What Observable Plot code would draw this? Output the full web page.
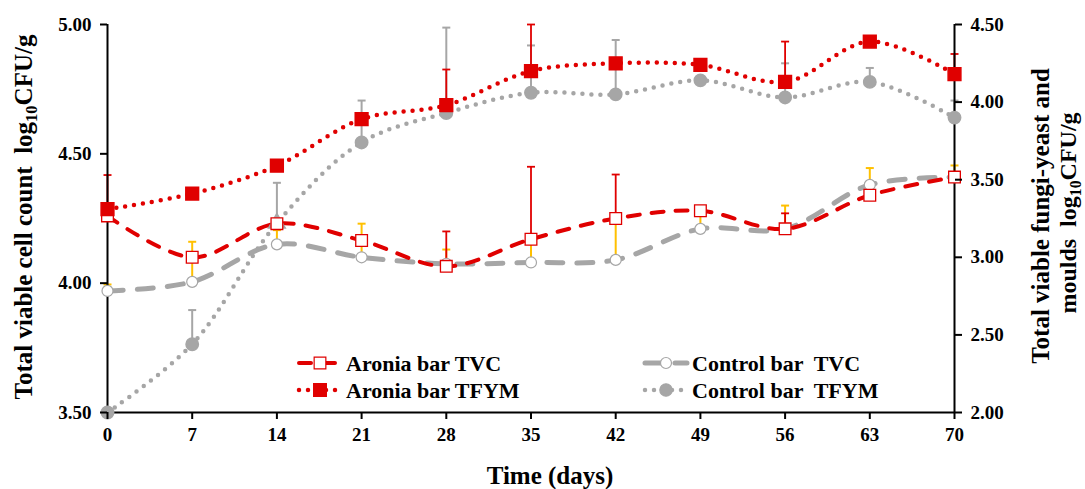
<!DOCTYPE html>
<html>
<head>
<meta charset="utf-8">
<script src="https://cdn.jsdelivr.net/npm/d3@7"></script>
<script src="https://cdn.jsdelivr.net/npm/@observablehq/plot@0.6"></script>
<style>
  html, body { margin: 0; padding: 0; background: white; }
  svg text { white-space: pre; }
</style>
</head>
<body>
<div id="chart"></div>
<script>
// ---- data ----
const days = [0, 7, 14, 21, 28, 35, 42, 49, 56, 63, 70];
const dayTicks = [0, 7, 14, 21, 28, 35, 42, 49, 56, 63, 70];
const leftTicks = [3.5, 4.0, 4.5, 5.0];
const rightTicks = [2.0, 2.5, 3.0, 3.5, 4.0, 4.5];

// Total viable count (left axis, log10 CFU/g)
const aroniaTVC  = [4.26, 4.10, 4.23, 4.165, 4.065, 4.17, 4.25, 4.28, 4.21, 4.34, 4.41];
const controlTVC = [3.97, 4.005, 4.15, 4.10, 4.075, 4.08, 4.09, 4.21, 4.21, 4.38, 4.41];
// Fungi-yeast and moulds (right axis, log10 CFU/g)
const aroniaTFYM  = [3.31, 3.41, 3.59, 3.89, 3.98, 4.20, 4.25, 4.24, 4.13, 4.39, 4.18];
const controlTFYM = [2.00, 2.44, 3.22, 3.74, 3.93, 4.06, 4.05, 4.14, 4.03, 4.13, 3.90];
const controlTFYMSymbol = ["circle", "circle", "triangle", "circle", "circle", "circle", "circle", "circle", "circle", "circle", "circle"];

// upper ends of error bars (null = not shown)
const aroniaTVCUpper   = [null, null, null, null, 4.20, 4.45, 4.42, 4.295, 4.27, null, null];
const controlTVCUpper  = [3.995, 4.16, 4.205, 4.23, 4.13, 4.17, 4.25, 4.29, 4.30, 4.445, 4.455];
const aroniaTFYMUpper  = [3.53, null, null, null, 4.21, 4.50, null, null, 4.39, null, 4.31];
const controlTFYMUpper = [null, 2.66, 3.48, 4.01, 4.48, 4.365, 4.40, null, 4.25, 4.22, 4.01];

const seriesNames = ["Aronia bar TVC", "Aronia bar TFYM", "Control bar  TVC", "Control bar  TFYM"];

// ---- styling ----
const RED = "#e00000", GRAY = "#a6a6a6", YELLOW = "#ffc000";
const FONT = "'Liberation Serif', 'Times New Roman', serif";

// right axis (2.0–4.5) mapped onto left scale (3.5–5.0)
const toLeft = v => 3.5 + (v - 2) * 0.6;
const fromLeft = v => (v - 3.5) / 0.6 + 2;

const rows = days.map((d, i) => ({
  day: d,
  aTVC: aroniaTVC[i], cTVC: controlTVC[i],
  aTFYM: toLeft(aroniaTFYM[i]), cTFYM: toLeft(controlTFYM[i]),
  cSym: controlTFYMSymbol[i],
  aTVChi: aroniaTVCUpper[i], cTVChi: controlTVCUpper[i],
  aTFYMhi: aroniaTFYMUpper[i] == null ? null : toLeft(aroniaTFYMUpper[i]),
  cTFYMhi: controlTFYMUpper[i] == null ? null : toLeft(controlTFYMUpper[i])
}));

const capSymbol = {
  draw(ctx, size) {
    const w = Math.sqrt(size / Math.PI);
    ctx.moveTo(-w, 0);
    ctx.lineTo(w, 0);
  }
};

function errorBars(key, hiKey, color, width) {
  const data = rows.filter(r => r[hiKey] != null);
  return [
    Plot.ruleX(data, {x: "day", y1: key, y2: hiKey, stroke: color, strokeWidth: width}),
    Plot.dot(data, {x: "day", y: hiKey, symbol: capSymbol, r: 4, stroke: color, strokeWidth: width, fill: "none"})
  ];
}

const symbolsUsed = Array.from(new Set(controlTFYMSymbol));

const chart = Plot.plot({
  width: 1085,
  height: 489,
  marginLeft: 107,
  marginRight: 131,
  marginTop: 24,
  marginBottom: 77,
  style: {fontFamily: FONT, fontWeight: "bold", fontSize: "19px", color: "black", background: "white"},
  x: {domain: [0, 70]},
  y: {domain: [3.5, 5.0]},
  marks: [
    // error bars
    ...errorBars("cTFYM", "cTFYMhi", GRAY, 2),
    ...errorBars("aTFYM", "aTFYMhi", RED, 1.8),
    ...errorBars("cTVC", "cTVChi", YELLOW, 2),
    ...errorBars("aTVC", "aTVChi", RED, 1.8),
    // lines
    Plot.line(rows, {x: "day", y: "cTFYM", curve: "catmull-rom", stroke: GRAY, strokeWidth: 4.5, strokeDasharray: "0,9", strokeLinecap: "round"}),
    Plot.line(rows, {x: "day", y: "cTVC", curve: "catmull-rom", stroke: GRAY, strokeWidth: 5, strokeDasharray: "16,14", strokeLinecap: "round"}),
    Plot.line(rows, {x: "day", y: "aTVC", curve: "catmull-rom", stroke: RED, strokeWidth: 4, strokeDasharray: "12,12", strokeLinecap: "round"}),
    Plot.line(rows, {x: "day", y: "aTFYM", curve: "catmull-rom", stroke: RED, strokeWidth: 4.5, strokeDasharray: "0,9", strokeLinecap: "round"}),
    // axis lines
    Plot.ruleX([0], {stroke: "black", strokeWidth: 2}),
    Plot.ruleX([70], {stroke: "black", strokeWidth: 2}),
    Plot.ruleY([3.5], {stroke: "black", strokeWidth: 2}),
    // markers
    ...symbolsUsed.map(s => Plot.dot(rows.filter(r => r.cSym === s), {x: "day", y: "cTFYM", symbol: s, r: 6.2, fill: GRAY, stroke: GRAY})),
    Plot.dot(rows, {x: "day", y: "cTVC", symbol: "circle", r: 5.5, fill: "white", stroke: GRAY, strokeWidth: 1.2}),
    Plot.dot(rows, {x: "day", y: "aTVC", symbol: "square", r: 6.6, fill: "white", stroke: RED, strokeWidth: 1.3}),
    Plot.dot(rows, {x: "day", y: "aTFYM", symbol: "square", r: 7.2, fill: RED, stroke: RED}),
    // axes
    Plot.axisX({ticks: dayTicks, tickSize: 7, tickPadding: 8, tickFormat: d => String(d), label: null, fontSize: 19, strokeWidth: 2}),
    Plot.axisY({anchor: "left", ticks: leftTicks, tickSize: 7, tickPadding: 9, tickFormat: d => d.toFixed(2), label: null, fontSize: 19, strokeWidth: 2}),
    Plot.axisY({anchor: "right", ticks: rightTicks.map(toLeft), tickSize: 7, tickPadding: 9, tickFormat: d => fromLeft(d).toFixed(2), label: null, fontSize: 19, strokeWidth: 2})
  ]
});

document.getElementById("chart").appendChild(chart);

// ---- titles & legend ----
const svg = d3.select(chart);

function subTitle(g, before, after, size) {
  const t = g.append("text")
    .attr("text-anchor", "middle")
    .attr("font-family", FONT).attr("font-weight", "bold").attr("font-size", size)
    .attr("fill", "black");
  t.append("tspan").text(before + "log");
  t.append("tspan").attr("font-size", size * 0.66).attr("dy", 5).text("10");
  t.append("tspan").attr("dy", -5).text(after);
  return t;
}

// left title
subTitle(svg.append("g").attr("transform", "translate(32,217) rotate(-90)"), "Total viable cell count  ", "CFU/g", 25);

// right title (two lines)
svg.append("g").attr("transform", "translate(1049,216) rotate(-90)")
  .append("text").attr("text-anchor", "middle")
  .attr("font-family", FONT).attr("font-weight", "bold").attr("font-size", 25).attr("fill", "black")
  .text("Total viable fungi-yeast and");
subTitle(svg.append("g").attr("transform", "translate(1076,213) rotate(-90)"), "moulds  ", "CFU/g", 24);

// x title
svg.append("text")
  .attr("x", 550).attr("y", 484).attr("text-anchor", "middle")
  .attr("font-family", FONT).attr("font-weight", "bold").attr("font-size", 25).attr("fill", "black")
  .text("Time (days)");

// legend
const legendItems = [
  {name: seriesNames[0], x: 299, y: 363, stroke: RED, width: 4, dash: "12,12", symbol: d3.symbolSquare, size: Math.PI * 6.6 * 6.6, fill: "white", mstroke: RED},
  {name: seriesNames[1], x: 299, y: 390, stroke: RED, width: 4.5, dash: "0,9", symbol: d3.symbolSquare, size: Math.PI * 7.2 * 7.2, fill: RED, mstroke: RED},
  {name: seriesNames[2], x: 645, y: 363, stroke: GRAY, width: 5, dash: "16,14", symbol: d3.symbolCircle, size: Math.PI * 5.5 * 5.5, fill: "white", mstroke: GRAY},
  {name: seriesNames[3], x: 645, y: 390, stroke: GRAY, width: 4.5, dash: "0,9", symbol: d3.symbolCircle, size: Math.PI * 6.2 * 6.2, fill: GRAY, mstroke: GRAY}
];
const lg = svg.append("g").attr("text-anchor", "start");
legendItems.forEach(it => {
  lg.append("line")
    .attr("x1", it.x).attr("x2", it.x + 42).attr("y1", it.y).attr("y2", it.y)
    .attr("stroke", it.stroke).attr("stroke-width", it.width)
    .attr("stroke-dasharray", it.dash).attr("stroke-linecap", "round");
  lg.append("path")
    .attr("transform", `translate(${it.x + 21},${it.y})`)
    .attr("d", d3.symbol(it.symbol, it.size)())
    .attr("fill", it.fill).attr("stroke", it.mstroke).attr("stroke-width", 1.2);
  lg.append("text")
    .attr("x", it.x + 47).attr("y", it.y + 7.5)
    .attr("text-anchor", "start")
    .attr("font-family", FONT).attr("font-weight", "bold").attr("font-size", 22).attr("fill", "black")
    .text(it.name);
});
</script>
</body>
</html>
